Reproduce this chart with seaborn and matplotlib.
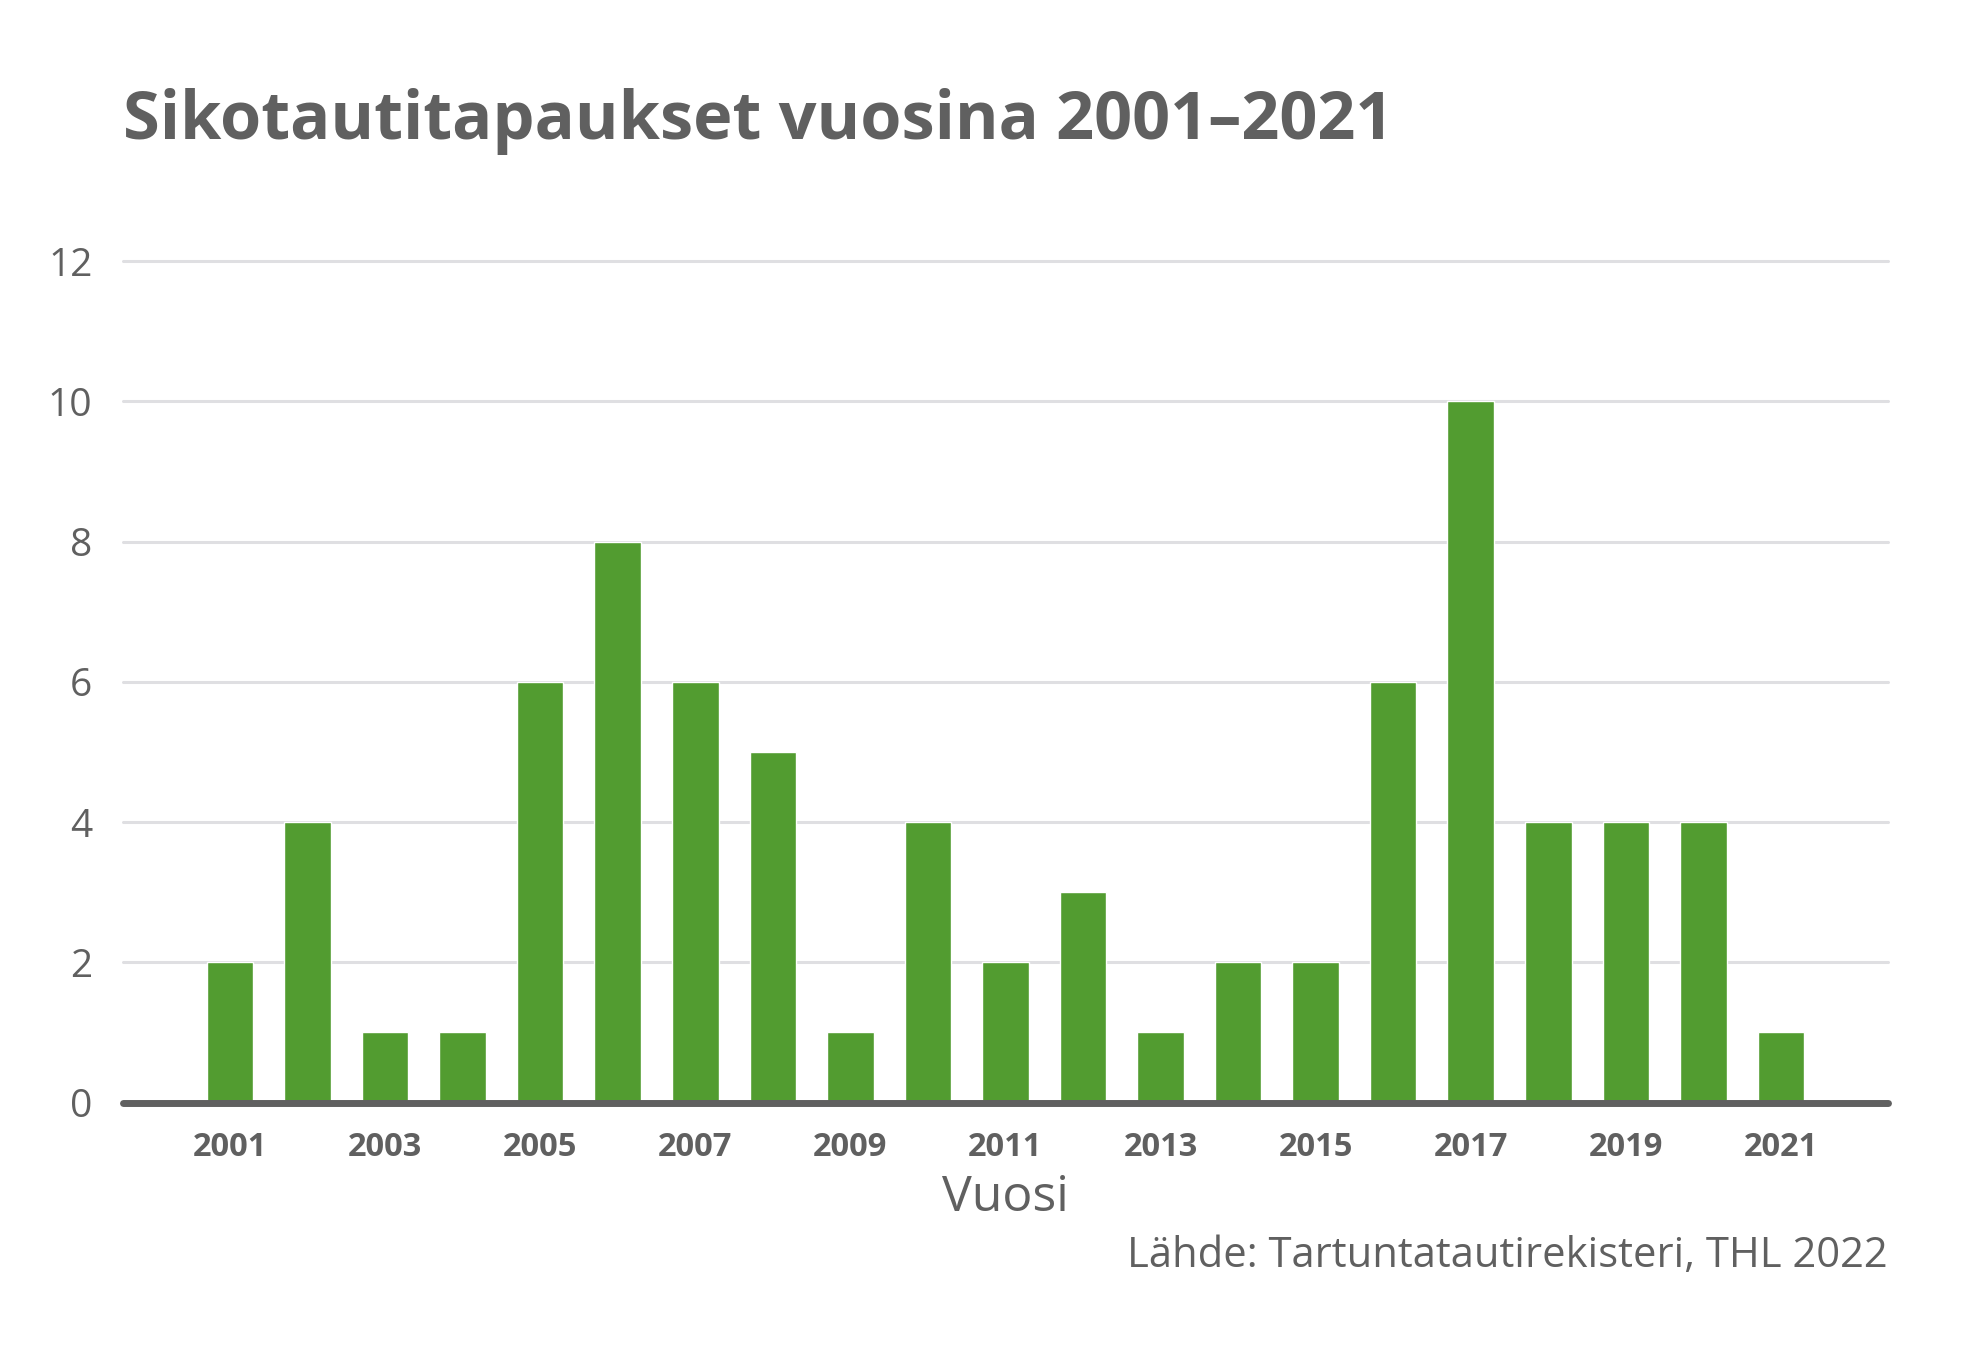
import matplotlib
matplotlib.use("Agg")
import matplotlib.pyplot as plt
import seaborn as sns
import pandas as pd

years = [str(y) for y in range(2001, 2022)]
cases = [2, 4, 1, 1, 6, 8, 6, 5, 1, 4, 2, 3, 1, 2, 2, 6, 10, 4, 4, 4, 1]
yticks = [0, 2, 4, 6, 8, 10, 12]
title = "Sikotautitapaukset vuosina 2001–2021"
xlabel = "Vuosi"
source = "Lähde: Tartuntatautirekisteri, THL 2022"

sns.set_theme(style="white")
plt.rcParams['font.family'] = ['Open Sans', 'DejaVu Sans']

TXT = "#606060"
GREEN = "#529c30"

df = pd.DataFrame({"Vuosi": years, "Tapaukset": cases})

fig = plt.figure(figsize=(19.74, 13.5), dpi=100)
ax = fig.add_axes([0.0623, 0.1833, 0.8941, 0.6233])

sns.barplot(data=df, x="Vuosi", y="Tapaukset", color=GREEN, saturation=1,
            width=0.6, ax=ax, zorder=3)

ax.set_ylim(0, 12)
ax.set_xlim(-1.38, len(years) - 1 + 1.38)
ax.set_yticks(yticks)
ax.set_yticklabels([str(t) for t in yticks])
for t in yticks[1:]:
    ax.axhline(t, color="#dfdfe2", lw=2.2, zorder=1, clip_on=False)
ax.axhline(0, color=TXT, lw=5, zorder=4, clip_on=False)

ax.set_xticks(range(0, len(years), 2))
ax.set_xticklabels(years[::2])
ax.tick_params(axis="x", length=0, pad=20.5, labelsize=23.5, labelcolor=TXT)
ax.tick_params(axis="y", length=0, pad=22, labelsize=28, labelcolor=TXT)
for lab in ax.get_xticklabels():
    lab.set_fontweight("bold")

for s in ax.spines.values():
    s.set_visible(False)

ax.set_ylabel("")
ax.set_xlabel(xlabel, fontsize=36, color=TXT, labelpad=7)

fig.text(0.0623, 0.897, title, fontsize=48, fontweight="bold", color=TXT,
         ha="left", va="baseline")
fig.text(0.9564, 0.0615, source, fontsize=30.1, color=TXT, ha="right", va="baseline")

fig.savefig("out.png", dpi=100, facecolor="white")
